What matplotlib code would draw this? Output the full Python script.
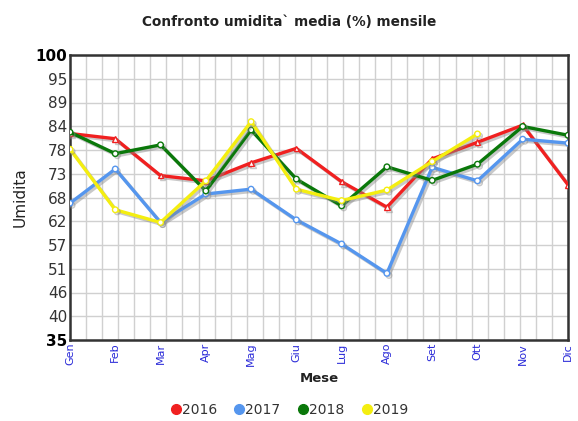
import numpy as np
import matplotlib
matplotlib.use('Agg')
import matplotlib.pyplot as plt
import matplotlib.patheffects as pe
from matplotlib.lines import Line2D

# Mesi e valori di umidita media (%):
mesi = ['Gen', 'Feb', 'Mar', 'Apr', 'Mag', 'Giu', 'Lug', 'Ago', 'Set', 'Ott', 'Nov', 'Dic']
u2016 = [82.1, 80.9, 72.5, 71.3, 75.4, 78.7, 71.1, 65.3, 76.3, 80.1, 84.0, 70.4]
u2017 = [66.2, 74.0, 61.8, 68.3, 69.4, 62.4, 56.9, 50.2, 74.4, 71.3, 80.8, 79.9]
u2018 = [82.4, 77.5, 79.5, 69.0, 82.9, 71.7, 65.6, 74.5, 71.4, 75.1, 83.7, 81.7]
u2019 = [78.5, 64.7, 61.8, 71.3, 84.8, 69.4, 66.8, 69.2, 75.7, 82.0]
anni = ['2016', '2017', '2018', '2019']
colori = ['#f02020', '#5596ee', '#0a780a', '#f4ee10']
serie = [u2016, u2017, u2018, u2019]
marker_anno = ['^', 'o', 'o', 'o']

# Tick asse y: 35..100 in 12 intervalli, etichette arrotondate
yticks = np.linspace(35, 100, 13)

fig = plt.figure(figsize=(5.78, 4.21), dpi=100)
ax = fig.add_axes([70/578, 1 - 340/421, 498/578, 285/421])

ombra = [pe.SimpleLineShadow(offset=(1.5, -1.5), shadow_color='#888888', alpha=0.45), pe.Normal()]
for vals, col, mk in zip(serie, colori, marker_anno):
    x = np.arange(len(vals))
    ax.plot(x, vals, color=col, linewidth=2.4, marker=mk, markersize=4,
            markerfacecolor='white', markeredgecolor=col, markeredgewidth=1.0,
            path_effects=ombra, zorder=3)

ax.set_xlim(0, 11)
ax.set_ylim(35, 100)

# griglia
for yv in yticks:
    ax.axhline(yv, color='#d0d0d0', linewidth=1, zorder=1)
for xv in np.linspace(0, 11, 32):
    ax.axvline(xv, color='#d0d0d0', linewidth=1, zorder=1)

ax.set_yticks(yticks)
ylab = [str(int(round(v))) for v in yticks]
ax.set_yticklabels(ylab, fontsize=11, color='#333333')
for i, t in enumerate(ax.get_yticklabels()):
    if i == 0 or i == len(yticks) - 1:
        t.set_fontweight('bold')
        t.set_color('black')
ax.set_xticks(np.arange(12))
ax.set_xticklabels(mesi, rotation=90, fontsize=8, color='#2a2ad8')
ax.tick_params(length=0, pad=2)

for s in ax.spines.values():
    s.set_color('#333333')
    s.set_linewidth(1.8)

ax.set_xlabel('Mese', fontsize=9.5, fontweight='bold', color='#222222', labelpad=4)
ax.set_ylabel('Umidita', fontsize=11, color='#222222', labelpad=6)
fig.suptitle('Confronto umidita` media (%) mensile', fontsize=9.8, fontweight='bold',
             color='#222222', x=0.5, y=0.965)

handles = [Line2D([], [], linestyle='none', marker='o', markersize=7, color=c) for c in colori]
fig.legend(handles, anni, loc='center', bbox_to_anchor=(0.5, 0.026), ncol=4, frameon=False,
           handletextpad=0.05, columnspacing=1.2, fontsize=10, handlelength=0.8,
           labelcolor='#333333')

fig.savefig('out.png', dpi=100)
